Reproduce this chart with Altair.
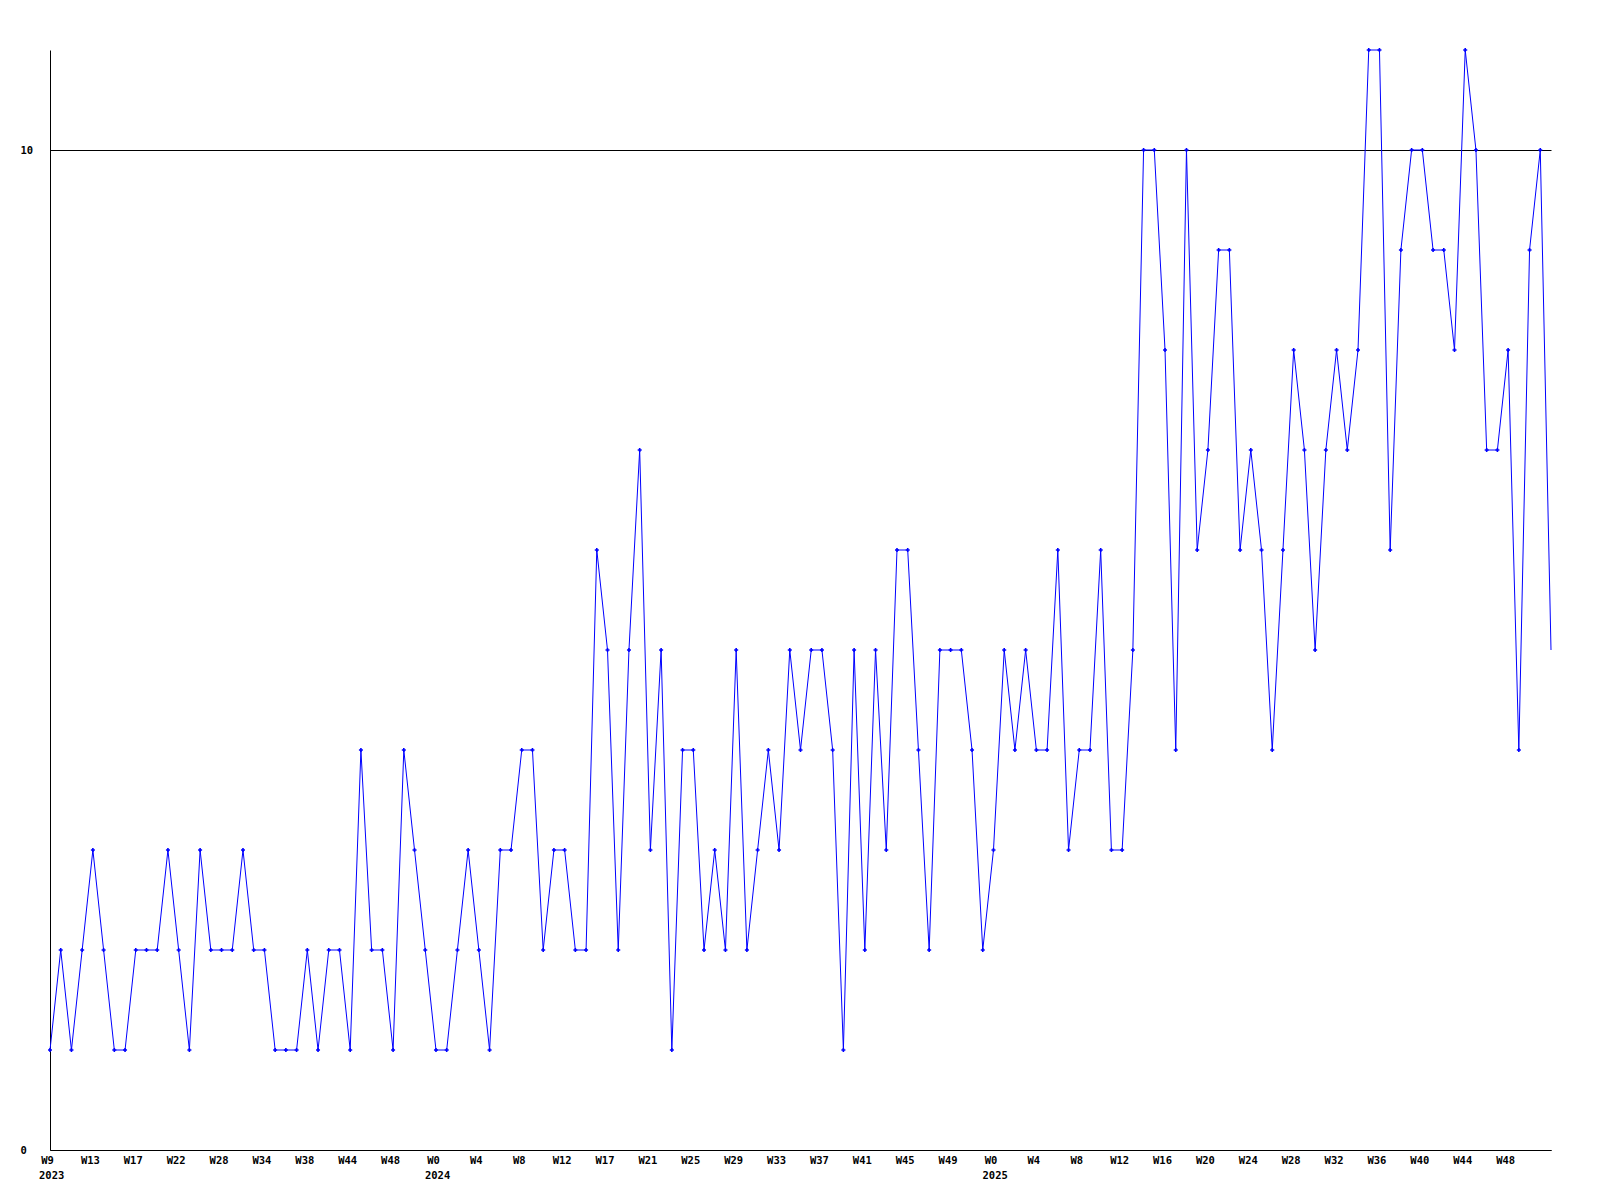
import altair as alt
import pandas as pd

values = [1, 2, 1, 2, 3, 2, 1, 1, 2, 2, 2, 3, 2, 1, 3, 2, 2, 2, 3, 2,
          2, 1, 1, 1, 2, 1, 2, 2, 1, 4, 2, 2, 1, 4, 3, 2, 1, 1, 2, 3,
          2, 1, 3, 3, 4, 4, 2, 3, 3, 2, 2, 6, 5, 2, 5, 7, 3, 5, 1, 4,
          4, 2, 3, 2, 5, 2, 3, 4, 3, 5, 4, 5, 5, 4, 1, 5, 2, 5, 3, 6,
          6, 4, 2, 5, 5, 5, 4, 2, 3, 5, 4, 5, 4, 4, 6, 3, 4, 4, 6, 3,
          3, 5, 10, 10, 8, 4, 10, 6, 7, 9, 9, 6, 7, 6, 4, 6, 8, 7, 5, 7,
          8, 7, 8, 11, 11, 6, 9, 10, 10, 9, 9, 8, 11, 10, 7, 7, 8, 4, 9, 10,
          5]

week_labels = ["W9", "W13", "W17", "W22", "W28", "W34", "W38", "W44", "W48",
               "W0", "W4", "W8", "W12", "W17", "W21", "W25", "W29", "W33",
               "W37", "W41", "W45", "W49", "W0", "W4", "W8", "W12", "W16",
               "W20", "W24", "W28", "W32", "W36", "W40", "W44", "W48"]
label_step = 4
year_labels = ["2023", "2024", "2025"]
year_positions = [0, 36, 88]

n = len(values)
df = pd.DataFrame({"i": list(range(n)), "v": values})
df_pts = df.iloc[:-1]
df_year = pd.DataFrame({"i": year_positions, "year": year_labels})

W, H = 1501, 1100
FONT = "DejaVu Sans Mono"

label_arr = "[" + ",".join("'" + s + "'" for s in week_labels) + "]"
tick_vals = [k * label_step for k in range(len(week_labels))]

x_scale = alt.Scale(domain=[0, n - 1], nice=False, zero=False)
y_scale = alt.Scale(domain=[0, 11], nice=False)

x_enc = alt.X("i:Q", scale=x_scale, axis=alt.Axis(
    values=tick_vals, labelExpr=label_arr + "[round(datum.value/" + str(label_step) + ")]",
    title=None, grid=False, ticks=False, domainColor="black", domainWidth=1,
    labelFont=FONT, labelFontWeight="bold", labelFontSize=10.5, labelColor="black",
    labelPadding=5, labelAlign="center", labelOffset=-3, labelOverlap=False, labelFlush=False))
y_enc = alt.Y("v:Q", scale=y_scale, axis=alt.Axis(
    values=[0, 10], format="d", title=None, grid=True, gridColor="black", gridWidth=1,
    ticks=False, domainColor="black", domainWidth=1,
    labelFont=FONT, labelFontWeight="bold", labelFontSize=10.5, labelColor="black",
    labelAlign="left", labelPadding=30, labelBaseline="middle"))

line = alt.Chart(df).mark_line(color="#0000ff", strokeWidth=1).encode(x=x_enc, y=y_enc)
pts = alt.Chart(df_pts).mark_point(shape="cross", filled=True, size=16, color="#0000ff", opacity=1).encode(
    x=alt.X("i:Q", scale=x_scale), y=alt.Y("v:Q", scale=y_scale))
years = alt.Chart(df_year).mark_text(font=FONT, fontWeight="bold", fontSize=10.5, color="black",
                                     align="left", baseline="top", dx=-11).encode(
    x=alt.X("i:Q", scale=x_scale), y=alt.value(H + 21), text="year:N")

chart = alt.layer(line, pts, years).properties(
    width=W, height=H,
    autosize=alt.AutoSizeParams(type="none"),
    padding={"left": 42, "top": 42, "right": 40, "bottom": 40},
    background="white",
).configure_view(stroke=None)

chart.save("out.html", embed_options={"renderer": "svg", "actions": False})
